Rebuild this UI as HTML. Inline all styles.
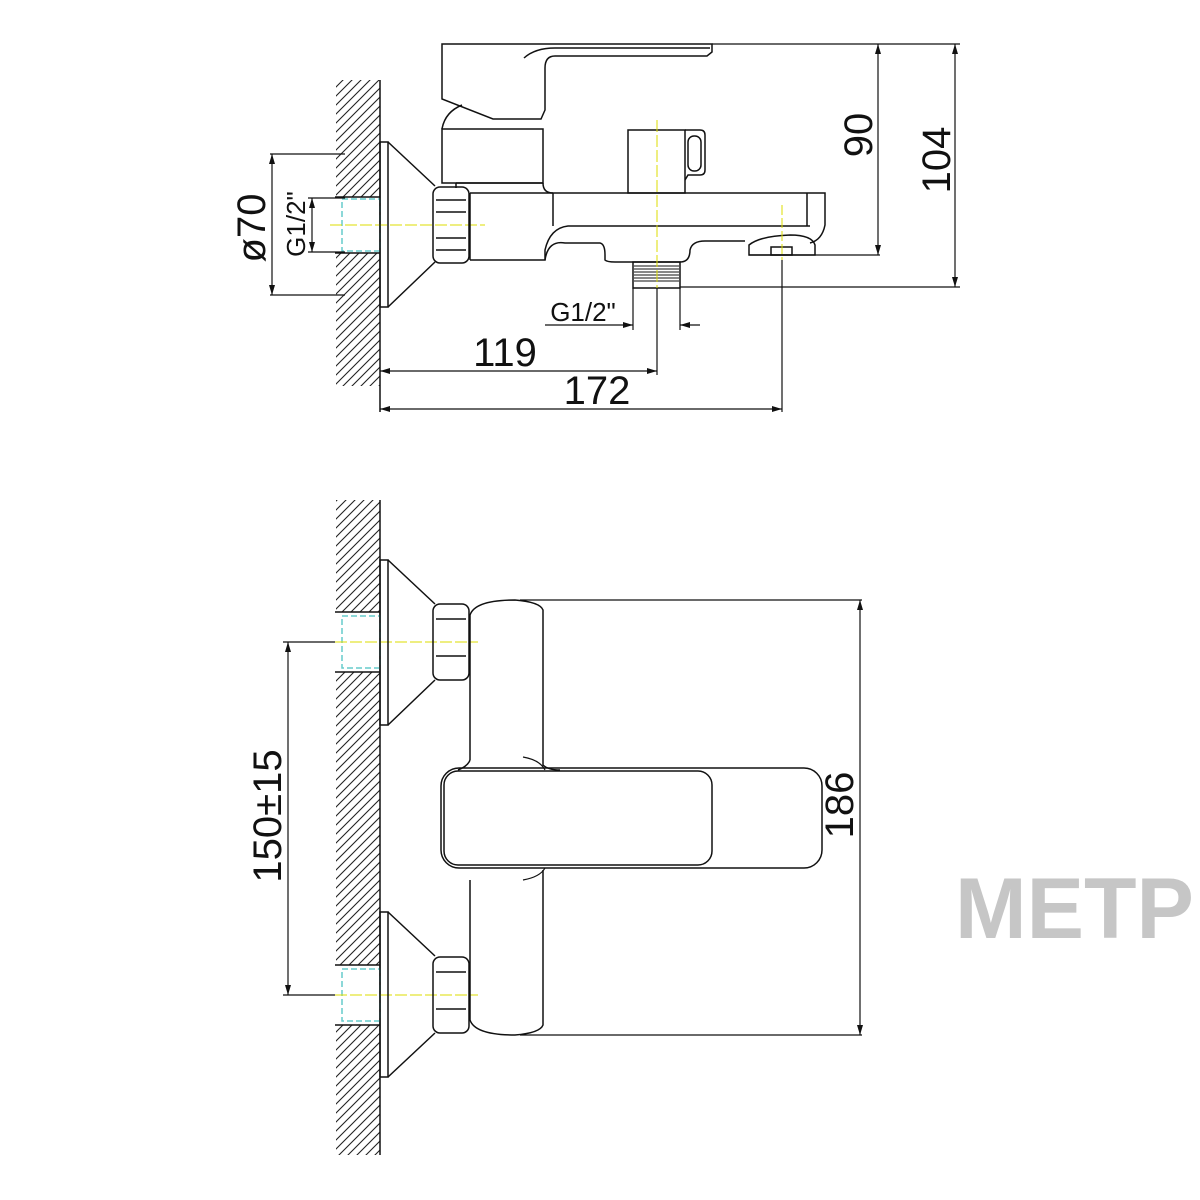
<!DOCTYPE html>
<html><head><meta charset="utf-8"><style>
html,body{margin:0;padding:0;background:#fff}
svg{display:block}
text{font-family:"Liberation Sans",sans-serif;fill:#111}
</style></head><body>
<svg width="1200" height="1200" viewBox="0 0 1200 1200" xmlns="http://www.w3.org/2000/svg">
<defs>
<pattern id="h" width="9" height="9" patternUnits="userSpaceOnUse">
<path d="M-1,10 L10,-1 M-4,4 L4,-4 M5,13 L13,5" stroke="#222" stroke-width="1.1"/>
</pattern>
<marker id="a" markerWidth="10" markerHeight="6" refX="10" refY="3" orient="auto-start-reverse" markerUnits="userSpaceOnUse">
<path d="M0,0 L10,3 L0,6z" fill="#111"/>
</marker>
</defs>
<g fill="none" stroke="#111" stroke-width="1.5">
<!-- ===== TOP VIEW ===== -->
<rect x="336" y="80" width="44" height="117" fill="url(#h)" stroke="none"/>
<rect x="336" y="253" width="44" height="133" fill="url(#h)" stroke="none"/>
<line x1="380" y1="80" x2="380" y2="412"/>
<line x1="335" y1="197" x2="380" y2="197"/>
<line x1="335" y1="253" x2="380" y2="253"/>
<rect x="342" y="199" width="38" height="52" stroke="#6cc" stroke-dasharray="6 3"/>
<line x1="330" y1="225" x2="485" y2="225" stroke="#dd0" stroke-dasharray="12 3" stroke-width="1"/>
<rect x="380" y="142" width="8" height="165"/>
<line x1="388" y1="142" x2="435" y2="186"/>
<line x1="388" y1="307" x2="435" y2="262"/>
<rect x="433" y="187" width="36" height="76" rx="7"/>
<line x1="436" y1="200" x2="466" y2="200"/><line x1="436" y1="250" x2="466" y2="250"/>
<line x1="436" y1="212" x2="466" y2="212"/><line x1="436" y1="238" x2="466" y2="238"/>
<!-- handle -->
<path d="M442,44 L712,44 L712,52 L707,56 L555,56 Q545,56 545,68 L545,110 L541,119 L493,119 L442,99 Z"/>
<path d="M524,58 Q535,48 555,48 L710,48"/>
<path d="M462,105 Q445,112 442,129"/>
<rect x="442" y="129" width="101" height="54"/>
<path d="M543,183 Q543,193 553,193"/>
<path d="M456,183 L543,183 M456,183 L456,188"/>
<!-- spout -->
<path d="M470,193 L825,193 L825,225 Q822,240 810,243 M470,260 L545,260 L545,250 Q550,228 568,226 L810,226"/>
<line x1="470" y1="193" x2="470" y2="260"/>
<line x1="553" y1="193" x2="553" y2="226"/>
<line x1="807" y1="193" x2="807" y2="226"/>
<path d="M545,260 Q548,240 565,243 L600,243 Q605,244 605,255 L605,260 Q607,262 615,262 L680,262 Q690,262 690,250 Q692,241 705,241 L745,241"/>
<path d="M749,255 L749,245 Q760,236 790,235 Q812,235 815,245 L815,255 Z"/>
<rect x="771" y="247" width="21" height="8"/>
<line x1="749" y1="255" x2="880" y2="255" stroke-width="1.2"/>
<!-- thread -->
<rect x="633" y="262" width="47" height="26"/>
<path d="M634,266 H679 M634,269 H679 M634,272 H679 M634,275 H679 M634,278 H679 M634,281 H679" stroke-width="1"/>
<!-- diverter -->
<rect x="628" y="130" width="57" height="63"/>
<path d="M685,130 H700 Q705,130 705,135 V170 Q705,175 700,175 H688 L685,180"/>
<rect x="688" y="136" width="13" height="35" rx="6"/>
<line x1="657" y1="120" x2="657" y2="300" stroke="#dd0" stroke-dasharray="12 3" stroke-width="1"/>
<line x1="782" y1="205" x2="782" y2="260" stroke="#dd0" stroke-dasharray="10 3" stroke-width="1"/>
<!-- dims top -->
<line x1="712" y1="44" x2="960" y2="44" stroke-width="1.2"/>
<line x1="680" y1="287" x2="960" y2="287" stroke-width="1.2"/>
<line x1="878" y1="44" x2="878" y2="255" stroke-width="1.2" marker-start="url(#a)" marker-end="url(#a)"/>
<line x1="955" y1="44" x2="955" y2="287" stroke-width="1.2" marker-start="url(#a)" marker-end="url(#a)"/>
<line x1="270" y1="154" x2="345" y2="154" stroke-width="1.2"/>
<line x1="270" y1="295" x2="345" y2="295" stroke-width="1.2"/>
<line x1="272" y1="154" x2="272" y2="295" stroke-width="1.2" marker-start="url(#a)" marker-end="url(#a)"/>
<line x1="308" y1="198" x2="345" y2="198" stroke-width="1.2"/>
<line x1="308" y1="252" x2="345" y2="252" stroke-width="1.2"/>
<line x1="312" y1="198" x2="312" y2="252" stroke-width="1.2" marker-start="url(#a)" marker-end="url(#a)"/>
<line x1="657" y1="288" x2="657" y2="375" stroke-width="1.2"/>
<line x1="782" y1="260" x2="782" y2="412" stroke-width="1.2"/>
<line x1="633" y1="288" x2="633" y2="330" stroke-width="1.2"/>
<line x1="680" y1="288" x2="680" y2="330" stroke-width="1.2"/>
<line x1="545" y1="325" x2="633" y2="325" stroke-width="1.2" marker-end="url(#a)"/>
<line x1="700" y1="325" x2="680" y2="325" stroke-width="1.2" marker-end="url(#a)"/>
<line x1="380" y1="371" x2="657" y2="371" stroke-width="1.2" marker-start="url(#a)" marker-end="url(#a)"/>
<line x1="380" y1="409" x2="782" y2="409" stroke-width="1.2" marker-start="url(#a)" marker-end="url(#a)"/>

<!-- ===== BOTTOM VIEW ===== -->
<rect x="336" y="500" width="44" height="112" fill="url(#h)" stroke="none"/>
<rect x="336" y="672" width="44" height="293" fill="url(#h)" stroke="none"/>
<rect x="336" y="1025" width="44" height="130" fill="url(#h)" stroke="none"/>
<line x1="380" y1="500" x2="380" y2="1155"/>
<line x1="335" y1="612" x2="380" y2="612"/><line x1="335" y1="672" x2="380" y2="672"/>
<line x1="335" y1="965" x2="380" y2="965"/><line x1="335" y1="1025" x2="380" y2="1025"/>
<rect x="342" y="616" width="38" height="52" stroke="#6cc" stroke-dasharray="6 3"/>
<rect x="342" y="969" width="38" height="52" stroke="#6cc" stroke-dasharray="6 3"/>
<line x1="335" y1="642" x2="478" y2="642" stroke="#dd0" stroke-dasharray="12 3" stroke-width="1"/>
<line x1="335" y1="995" x2="478" y2="995" stroke="#dd0" stroke-dasharray="12 3" stroke-width="1"/>
<rect x="380" y="560" width="8" height="165"/>
<line x1="388" y1="560" x2="435" y2="604"/><line x1="388" y1="725" x2="435" y2="680"/>
<rect x="380" y="912" width="8" height="165"/>
<line x1="388" y1="912" x2="435" y2="956"/><line x1="388" y1="1077" x2="435" y2="1033"/>
<rect x="433" y="604" width="36" height="76" rx="7"/>
<line x1="436" y1="619" x2="466" y2="619"/><line x1="436" y1="656" x2="466" y2="656"/>
<rect x="433" y="957" width="36" height="76" rx="7"/>
<line x1="436" y1="972" x2="466" y2="972"/><line x1="436" y1="1009" x2="466" y2="1009"/>
<!-- body -->
<path d="M470,760 L470,615 Q475,600 515,600 Q540,602 543,610 L543,765 Q548,770 560,770"/>
<path d="M470,760 Q468,766 458,770"/>
<path d="M470,880 L470,1020 Q475,1035 515,1035 Q540,1033 543,1025 L543,870"/>
<line x1="520" y1="600" x2="862" y2="600" stroke-width="1.2"/>
<line x1="520" y1="1035" x2="862" y2="1035" stroke-width="1.2"/>
<rect x="441" y="768" width="381" height="100" rx="18"/>
<rect x="444" y="771" width="268" height="94" rx="14"/>
<path d="M523,757 Q540,760 545,770 M523,880 Q540,877 545,868" stroke-width="1.2"/>
<line x1="860" y1="600" x2="860" y2="1035" stroke-width="1.2" marker-start="url(#a)" marker-end="url(#a)"/>
<line x1="283" y1="642" x2="335" y2="642" stroke-width="1.2"/>
<line x1="283" y1="995" x2="335" y2="995" stroke-width="1.2"/>
<line x1="288" y1="642" x2="288" y2="995" stroke-width="1.2" marker-start="url(#a)" marker-end="url(#a)"/>
</g>
<!-- texts -->
<g font-size="40">
<text x="877" y="135" transform="rotate(-90 877 135)" text-anchor="middle" dy="-5">90</text>
<text x="955" y="160" transform="rotate(-90 955 160)" text-anchor="middle" dy="-5">104</text>
<text x="505" y="366" text-anchor="middle">119</text>
<text x="597" y="404" text-anchor="middle">172</text>
<text x="270" y="228" transform="rotate(-90 270 228)" text-anchor="middle" dy="-5">ø70</text>
<text x="858" y="805" transform="rotate(-90 858 805)" text-anchor="middle" dy="-5">186</text>
<text x="286" y="816" transform="rotate(-90 286 816)" text-anchor="middle" dy="-5">150±15</text>
</g>
<g font-size="26">
<text x="311" y="224" transform="rotate(-90 311 224)" text-anchor="middle" dy="-6">G1/2"</text>
<text x="583" y="321" text-anchor="middle">G1/2"</text>
</g>
<text x="955" y="938" font-size="86" font-weight="bold" style="fill:#c6c6c6">METP</text>
</svg>
</body></html>
